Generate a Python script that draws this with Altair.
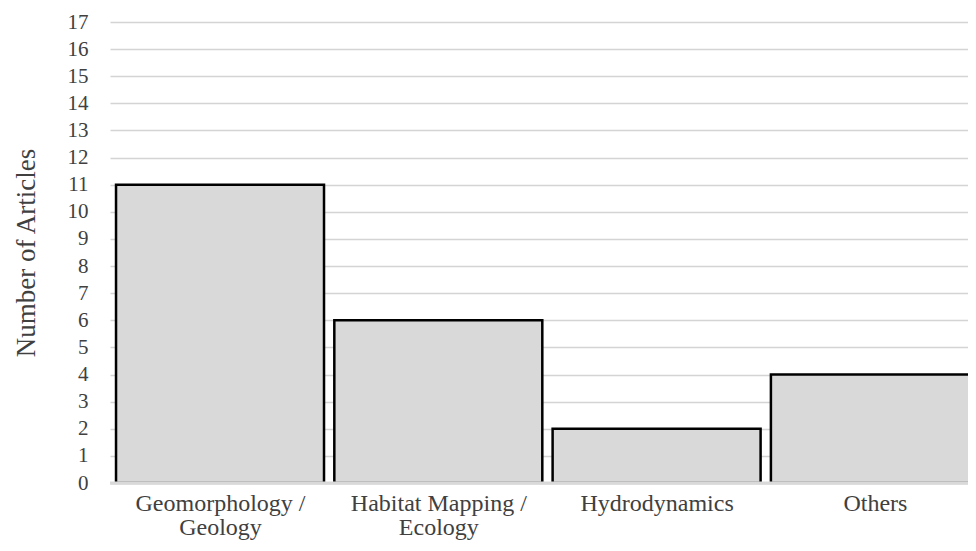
import json
import altair as alt
import pandas as pd

categories = ["Geomorphology /\nGeology", "Habitat Mapping /\nEcology", "Hydrodynamics", "Others"]
counts = [11, 6, 2, 4]
y_ticks = list(range(0, 18))

df = pd.DataFrame({"category": categories, "count": counts})
base_df = pd.DataFrame({"count": [0]})

FONT = "Liberation Serif"
HALF = 0.4764  # half of a bar's width, in category steps

label_expr = "split(" + json.dumps(categories) + "[datum.value], '\\n')"

x_scale = alt.Scale(domain=[-0.504, 3.4265], nice=False, zero=False)

x = alt.X(
    "x0:Q",
    title=None,
    scale=x_scale,
    axis=alt.Axis(
        values=list(range(len(categories))),
        labelExpr=label_expr,
        labelAngle=0,
        labelFontSize=24,
        labelPadding=8,
        labelLineHeight=24,
        ticks=False,
        domainColor="#d0d0d0",
        domainWidth=2,
        grid=False,
    ),
)

y = alt.Y(
    "count:Q",
    title="Number of Articles",
    scale=alt.Scale(domain=[0, 17], nice=False, padding=0),
    axis=alt.Axis(
        values=y_ticks,
        labelFontSize=21,
        labelPadding=22,
        ticks=False,
        domain=False,
        grid=True,
        gridColor="#d4d4d4",
        gridWidth=1.5,
        titleFontSize=27,
        titleFontWeight="normal",
        titlePadding=27,
    ),
)

bars = (
    alt.Chart(df)
    .transform_window(rn="row_number()")
    .transform_calculate(
        x0=f"datum.rn - 1 - {HALF}",
        x1=f"datum.rn - 1 + {HALF}",
    )
    .mark_bar(color="#d9d9d9", stroke="black", strokeWidth=2.5, clip=True)
    .encode(x=x, x2="x1:Q", y=y, y2=alt.datum(0))
)

base = alt.Chart(base_df).mark_rule(color="#d9d9d9", strokeWidth=3).encode(y=y)

chart = alt.layer(bars, base).properties(
    width=858,
    height=461,
    autosize=alt.AutoSizeParams(type="none"),
    padding={"left": 102, "top": 14, "right": 0, "bottom": 60},
).configure_view(stroke=None).configure_axis(
    labelFont=FONT,
    titleFont=FONT,
    labelColor="#404040",
    titleColor="#404040",
)

chart.save("out.html", embed_options={"renderer": "svg", "actions": False})
